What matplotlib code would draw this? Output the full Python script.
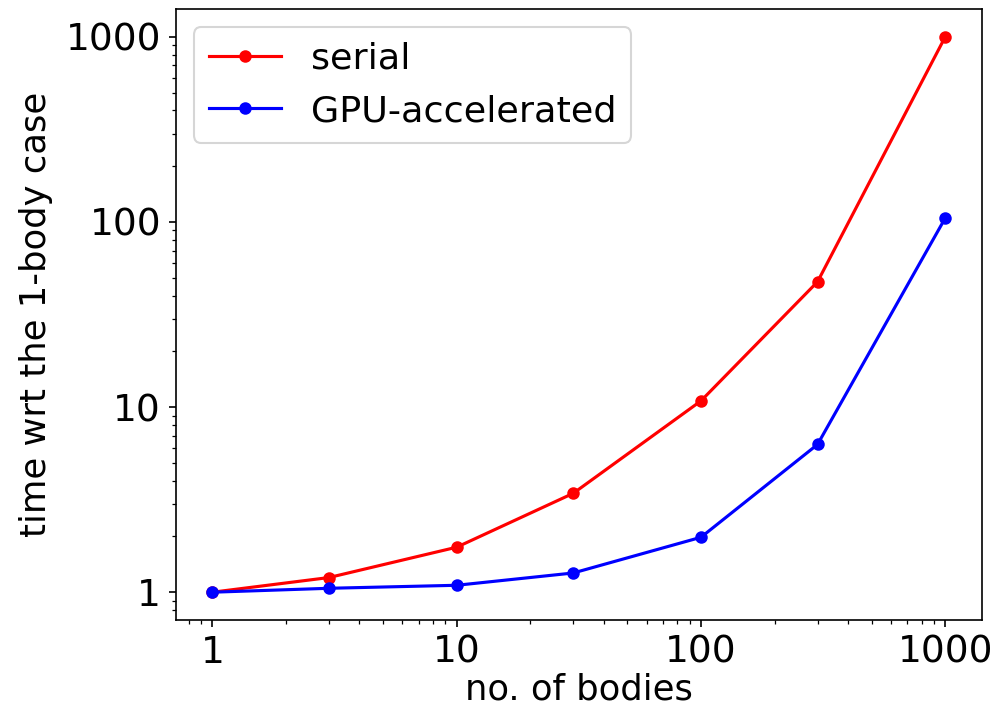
import matplotlib
matplotlib.use("Agg")
import matplotlib.pyplot as plt

bodies = [1, 3, 10, 30, 100, 300, 1000]
serial = [1.0, 1.20, 1.75, 3.42, 10.8, 47.5, 1000]
gpu = [1.0, 1.05, 1.09, 1.27, 1.98, 6.28, 105]
xticks = [1, 10, 100, 1000]
yticks = [1, 10, 100, 1000]

dpi = 150
fig = plt.figure(figsize=(1004 / dpi, 705 / dpi), dpi=dpi)
ax = fig.add_axes([0.175, 0.1206, 0.803, 0.8666])
ax.plot(bodies, serial, 'o-', color='red', label='serial', markersize=5, linewidth=1.5)
ax.plot(bodies, gpu, 'o-', color='blue', label='GPU-accelerated', markersize=5, linewidth=1.5)
ax.set_xscale('log')
ax.set_yscale('log')
ax.set_xticks(xticks)
ax.set_xticklabels([str(v) for v in xticks])
ax.set_yticks(yticks)
ax.set_yticklabels([str(v) for v in yticks])
ax.tick_params(labelsize=18)
ax.set_xlabel('no. of bodies', fontsize=17, labelpad=1)
ax.set_ylabel('time wrt the 1-body case', fontsize=17, labelpad=6)
ax.legend(loc='upper left', fontsize=17.5)
fig.savefig('out.png', dpi=dpi)
